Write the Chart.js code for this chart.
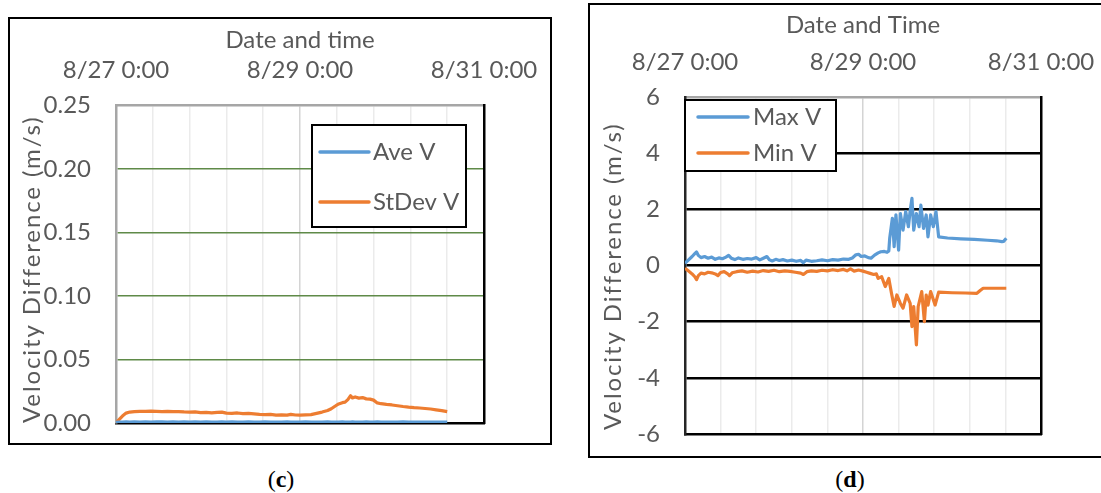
<!DOCTYPE html>
<html>
<head>
<meta charset="utf-8">
<script src="https://cdn.jsdelivr.net/npm/chart.js@4.4.1/dist/chart.umd.min.js"></script>
<style>
  body { margin: 0; width: 1101px; height: 493px; overflow: hidden; background: #fff; position: relative; }
  .panel { position: absolute; border: 2px solid #000; box-sizing: border-box; overflow: hidden; background: #fff; }
  .caption { position: absolute; width: 200px; text-align: center; font-family: "Liberation Serif", serif; font-size: 24px; line-height: 28px; color: #000; }
  .caption b { font-weight: bold; }
</style>
</head>
<body>
<div class="panel" style="left:8px; top:17px; width:544px; height:428px;">
  <canvas id="chartC" width="540" height="424"></canvas>
</div>
<div class="panel" style="left:588px; top:3px; width:530px; height:455px;">
  <canvas id="chartD" width="520" height="451"></canvas>
</div>
<div class="caption" style="left:181px; top:465px;">(<b>c</b>)</div>
<div class="caption" style="left:750px; top:465px;">(<b>d</b>)</div>

<script>
// ---- data: days since 8/27 0:00 ----
const xTickDays = [0, 0.4, 0.8, 1.2, 1.6, 2, 2.4, 2.8, 3.2, 3.6, 4];
const xTickLabels = ["8/27 0:00", "", "", "", "", "8/29 0:00", "", "", "", "", "8/31 0:00"];

const cTicks = [0, 0.05, 0.1, 0.15, 0.2, 0.25];
const dTicks = [-6, -4, -2, 0, 2, 4, 6];

// panel (c): average and standard deviation
const cDays = [0.00, 0.03, 0.07, 0.11, 0.15, 0.20, 0.26, 0.32, 0.38, 0.44, 0.50, 0.56, 0.62, 0.68, 0.74, 0.80,
  0.86, 0.92, 0.98, 1.04, 1.10, 1.15, 1.20, 1.26, 1.32, 1.38, 1.44, 1.50, 1.56, 1.62, 1.68, 1.74, 1.80, 1.86,
  1.90, 1.95, 2.00, 2.06, 2.12, 2.18, 2.24, 2.30, 2.34, 2.38, 2.42, 2.46, 2.49, 2.52, 2.55, 2.57, 2.60, 2.64,
  2.68, 2.72, 2.76, 2.80, 2.84, 2.88, 2.94, 3.00, 3.06, 3.12, 3.18, 3.24, 3.30, 3.36, 3.42, 3.48, 3.54, 3.60];
const stdevV = [0.0005, 0.0025, 0.0055, 0.0078, 0.0086, 0.0090, 0.0092, 0.0091, 0.0094, 0.0092, 0.0090, 0.0092,
  0.0089, 0.0090, 0.0087, 0.0085, 0.0088, 0.0082, 0.0083, 0.0080, 0.0084, 0.0086, 0.0078, 0.0076, 0.0079, 0.0074,
  0.0076, 0.0072, 0.0068, 0.0066, 0.0068, 0.0062, 0.0064, 0.0062, 0.0068, 0.0063, 0.0062, 0.0064, 0.0066, 0.0076,
  0.0086, 0.0098, 0.0112, 0.0132, 0.0150, 0.0160, 0.0164, 0.0184, 0.0215, 0.0198, 0.0205, 0.0196, 0.0200, 0.0190,
  0.0188, 0.0180, 0.0158, 0.0152, 0.0146, 0.0142, 0.0136, 0.0130, 0.0125, 0.0121, 0.0118, 0.0114, 0.0110, 0.0104,
  0.0098, 0.0090];
const aveV = [0.0006, 0.0008, 0.0007, 0.0009, 0.0008, 0.0010, 0.0008, 0.0009, 0.0007, 0.0010, 0.0009, 0.0008,
  0.0010, 0.0008, 0.0009, 0.0007, 0.0009, 0.0008, 0.0010, 0.0008, 0.0007, 0.0009, 0.0008, 0.0010, 0.0007, 0.0008,
  0.0009, 0.0007, 0.0008, 0.0009, 0.0007, 0.0008, 0.0007, 0.0009, 0.0008, 0.0007, 0.0008, 0.0009, 0.0007, 0.0008,
  0.0007, 0.0009, 0.0008, 0.0007, 0.0008, 0.0009, 0.0007, 0.0008, 0.0007, 0.0009, 0.0008, 0.0007, 0.0008, 0.0009,
  0.0007, 0.0008, 0.0009, 0.0007, 0.0008, 0.0007, 0.0008, 0.0009, 0.0007, 0.0008, 0.0007, 0.0008, 0.0007, 0.0008,
  0.0007, 0.0007];

// panel (d): max and min
const maxDays = [0.00, 0.04, 0.08, 0.11, 0.13, 0.15, 0.18, 0.22, 0.26, 0.30, 0.34, 0.38, 0.42, 0.46, 0.49, 0.52,
  0.56, 0.60, 0.65, 0.70, 0.75, 0.80, 0.84, 0.88, 0.92, 0.95, 0.98, 1.02, 1.06, 1.10, 1.15, 1.20, 1.25, 1.30,
  1.33, 1.36, 1.42, 1.48, 1.54, 1.60, 1.66, 1.72, 1.78, 1.84, 1.88, 1.92, 1.95, 1.98, 2.02, 2.06, 2.09, 2.13,
  2.17, 2.20, 2.24, 2.27, 2.29, 2.30, 2.33, 2.35, 2.37, 2.40, 2.42, 2.45, 2.48, 2.51, 2.53, 2.55, 2.57, 2.60,
  2.63, 2.65, 2.68, 2.71, 2.73, 2.76, 2.79, 2.82, 2.85, 2.95, 3.10, 3.25, 3.40, 3.50, 3.56, 3.58, 3.61];
const maxV = [0.08, 0.20, 0.32, 0.42, 0.48, 0.36, 0.28, 0.32, 0.26, 0.30, 0.22, 0.27, 0.24, 0.30, 0.36, 0.26,
  0.21, 0.27, 0.22, 0.25, 0.23, 0.28, 0.20, 0.26, 0.32, 0.20, 0.16, 0.22, 0.18, 0.21, 0.16, 0.19, 0.15, 0.18,
  0.10, 0.19, 0.15, 0.17, 0.20, 0.17, 0.21, 0.19, 0.23, 0.22, 0.27, 0.38, 0.40, 0.32, 0.34, 0.28, 0.26, 0.37,
  0.45, 0.49, 0.50, 0.47, 0.52, 0.97, 1.68, 0.67, 1.80, 0.55, 1.85, 1.26, 1.92, 1.38, 1.95, 2.39, 1.26, 1.85,
  1.38, 2.15, 1.32, 1.80, 1.02, 1.80, 1.38, 1.92, 1.02, 0.98, 0.95, 0.93, 0.90, 0.88, 0.85, 0.86, 0.97];

const minDays = [0.00, 0.04, 0.08, 0.11, 0.13, 0.15, 0.18, 0.22, 0.26, 0.30, 0.34, 0.37, 0.40, 0.44, 0.48, 0.50,
  0.53, 0.58, 0.64, 0.70, 0.76, 0.82, 0.88, 0.94, 1.00, 1.06, 1.12, 1.18, 1.24, 1.30, 1.33, 1.37, 1.42, 1.48,
  1.54, 1.60, 1.66, 1.72, 1.78, 1.82, 1.86, 1.90, 1.95, 2.00, 2.04, 2.08, 2.12, 2.15, 2.17, 2.21, 2.25, 2.29,
  2.32, 2.35, 2.38, 2.42, 2.45, 2.49, 2.53, 2.55, 2.57, 2.60, 2.62, 2.66, 2.69, 2.71, 2.73, 2.76, 2.81, 2.85,
  3.00, 3.15, 3.28, 3.32, 3.35, 3.50, 3.61];
const minV = [-0.10, -0.20, -0.30, -0.40, -0.50, -0.36, -0.27, -0.30, -0.24, -0.26, -0.30, -0.36, -0.25, -0.22,
  -0.30, -0.36, -0.26, -0.22, -0.19, -0.24, -0.20, -0.23, -0.18, -0.21, -0.17, -0.22, -0.19, -0.21, -0.24, -0.27,
  -0.32, -0.22, -0.19, -0.21, -0.17, -0.19, -0.15, -0.18, -0.14, -0.19, -0.12, -0.20, -0.16, -0.20, -0.24, -0.28,
  -0.32, -0.30, -0.46, -0.40, -0.75, -0.46, -0.99, -1.46, -1.05, -1.35, -1.52, -1.05, -1.35, -2.18, -1.46, -2.83,
  -1.46, -0.93, -2.00, -1.05, -1.41, -0.93, -1.41, -0.95, -0.97, -0.98, -0.99, -0.88, -0.81, -0.81, -0.81];

const BLUE = "#5b9bd5";
const ORANGE = "#ed7d31";
const TEXT = "#595959";
const FONT = { family: "Lato, 'Open Sans', sans-serif", size: 24 };
const Y_TITLE = "Velocity Difference (m/s)";

const toPoints = (xs, ys) => xs.map((x, i) => ({ x: x, y: ys[i] }));
const clear = "rgba(0,0,0,0)";

/* =========================
   LEGEND BOX + Y TITLE
========================= */
const boxLegend = {
  id: "boxLegend",
  afterDraw(chart, args, o) {
    const ctx = chart.ctx;
    ctx.save();
    ctx.fillStyle = "#fff";
    ctx.fillRect(o.x, o.y, o.w, o.h);
    ctx.lineWidth = 2;
    ctx.strokeStyle = "#000";
    ctx.strokeRect(o.x, o.y, o.w, o.h);
    ctx.font = FONT.size + "px " + FONT.family;
    ctx.textBaseline = "middle";
    chart.data.datasets.forEach((ds, i) => {
      const y = o.rows[i];
      ctx.strokeStyle = ds.borderColor;
      ctx.lineWidth = 3.5;
      ctx.lineCap = "round";
      ctx.beginPath();
      ctx.moveTo(o.lineX[0], y);
      ctx.lineTo(o.lineX[1], y);
      ctx.stroke();
      ctx.fillStyle = TEXT;
      ctx.fillText(ds.label, o.textX, y);
    });

    // rotated axis title, a little letter-spaced
    ctx.translate(o.titleX, o.titleY);
    ctx.rotate(-Math.PI / 2);
    ctx.letterSpacing = "1.9px";
    ctx.textAlign = "left";
    ctx.fillStyle = TEXT;
    ctx.fillText(Y_TITLE, 0, 0);
    ctx.restore();
  }
};

// shared axis builders
function topAxis(title, height, tickLen, titlePad) {
  return {
    type: "linear", position: "top", min: 0, max: 4,
    afterBuildTicks: (s) => { s.ticks = xTickDays.map(v => ({ value: v })); },
    afterFit: (s) => { s.height = height; },
    ticks: {
      autoSkip: false, maxRotation: 0, padding: 0, color: TEXT, font: FONT,
      callback: (v, i) => xTickLabels[i]
    },
    grid: {
      drawTicks: true, tickLength: tickLen, tickColor: clear, lineWidth: 1.5,
      color: (c) => {
        if (!c.tick || c.tick.value === 0 || c.tick.value === 4) return clear;
        return c.tick.value === 2 ? "#d4d4d4" : "#ebebeb";
      }
    },
    border: { color: "#a6a6a6", width: 2.5 },
    title: { display: true, text: title, color: TEXT, font: FONT, padding: { top: titlePad, bottom: 0 } }
  };
}

function leftAxis(min, max, tickVals, fmt, width, gridColor, gridWidth, borderColor) {
  return {
    type: "linear", position: "left", min: min, max: max,
    afterBuildTicks: (s) => { s.ticks = tickVals.map(v => ({ value: v })); },
    afterFit: (s) => { s.width = width; },
    ticks: { padding: 0, color: TEXT, font: FONT, callback: fmt },
    grid: {
      drawTicks: true, tickLength: 25, tickColor: clear, lineWidth: gridWidth,
      color: (c) => (!c.tick || c.tick.value === min || c.tick.value === max) ? clear : gridColor
    },
    border: { color: borderColor, width: 2.5 }
  };
}

// plain black lines on the right and bottom edges of the plot
const rightEdge = {
  type: "linear", position: "right", display: true,
  ticks: { display: false }, grid: { display: false, drawTicks: false },
  border: { color: "#000", width: 2.5 },
  afterFit: (s) => { s.width = 0; }
};
const bottomEdge = {
  type: "linear", position: "bottom", display: true,
  ticks: { display: false }, grid: { display: false, drawTicks: false },
  border: { color: "#000", width: 2.5 },
  afterFit: (s) => { s.height = 0; }
};

function lineSet(label, pts, color) {
  return {
    label: label, data: pts, borderColor: color, backgroundColor: color,
    borderWidth: 3.2, pointRadius: 0, tension: 0, borderJoinStyle: "round",
    xAxisID: "x", yAxisID: "y"
  };
}

/* =========================
   PANEL (c)
========================= */
new Chart(document.getElementById("chartC"), {
  type: "line",
  data: {
    datasets: [
      lineSet("Ave V", toPoints(cDays, aveV), BLUE),
      lineSet("StDev V", toPoints(cDays, stdevV), ORANGE)
    ]
  },
  options: {
    responsive: false,
    animation: false,
    layout: { padding: { left: 0, right: 66, top: 0, bottom: 20 } },
    scales: {
      x: topAxis("Date and time", 86.5, 21, 6.6),
      x2: bottomEdge,
      y: leftAxis(0, 0.25, cTicks, (v) => v.toFixed(2), 106, "#5f8a48", 1.5, "#a6a6a6"),
      y2: rightEdge
    },
    plugins: {
      legend: { display: false },
      tooltip: { enabled: false },
      boxLegend: { x: 302, y: 106, w: 154, h: 102, rows: [133, 183], lineX: [310, 359], textX: 363,
        titleX: 22, titleY: 404 }
    }
  },
  plugins: [boxLegend]
});

/* =========================
   PANEL (d)
========================= */
new Chart(document.getElementById("chartD"), {
  type: "line",
  data: {
    datasets: [
      lineSet("Max V", toPoints(maxDays, maxV), BLUE),
      lineSet("Min V", toPoints(minDays, minV), ORANGE)
    ]
  },
  options: {
    responsive: false,
    animation: false,
    layout: { padding: { left: 0, right: 69, top: 0, bottom: 22 } },
    scales: {
      x: topAxis("Date and Time", 92, 20.6, 5.6),
      x2: bottomEdge,
      y: leftAxis(-6, 6, dTicks, (v) => String(v), 95, "#000", 2.5, "#262626"),
      y2: rightEdge
    },
    plugins: {
      legend: { display: false },
      tooltip: { enabled: false },
      boxLegend: { x: 95, y: 95, w: 151, h: 71, rows: [112, 148], lineX: [108, 158], textX: 163,
        titleX: 23, titleY: 425 }
    }
  },
  plugins: [boxLegend]
});
</script>
</body>
</html>
